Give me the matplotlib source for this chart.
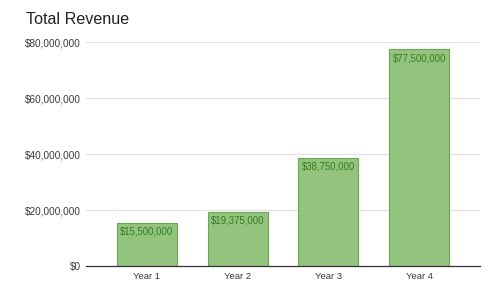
import matplotlib.pyplot as plt
from matplotlib.ticker import FuncFormatter

years = ['Year 1', 'Year 2', 'Year 3', 'Year 4']
revenue = [15500000, 19375000, 38750000, 77500000]

plt.rcParams['font.family'] = ['Liberation Sans', 'DejaVu Sans']

fig = plt.figure(figsize=(4.97, 2.86), dpi=100)
ax = fig.add_axes([86 / 497, 20 / 286, 394 / 497, 224 / 286])

x = range(len(years))
bars = ax.bar(x, revenue, width=0.66, color='#93c47d', edgecolor='#6aa84f',
              linewidth=0.8, zorder=3)

# value labels just inside the top of each bar
for b, v in zip(bars, revenue):
    ax.annotate('${:,.0f}'.format(v), (b.get_x() + b.get_width() / 2, v),
                xytext=(0, -3), textcoords='offset points', ha='center', va='top',
                fontsize=6.9, color='#357a22', zorder=4)

ax.set_ylim(0, 80000000)
ax.set_xlim(-0.67, 3.67)
ax.set_yticks([0, 20000000, 40000000, 60000000, 80000000])
ax.yaxis.set_major_formatter(FuncFormatter(lambda v, p: '${:,.0f}'.format(v)))
ax.set_xticks(list(x))
ax.set_xticklabels(years)
ax.tick_params(axis='both', length=0, labelcolor='#3a3a3a')
ax.tick_params(axis='y', pad=3.6, labelsize=7.2)
ax.tick_params(axis='x', pad=4, labelsize=6.8)

ax.grid(axis='y', color='#e0e0e0', linewidth=0.8, zorder=0)
for s in ['top', 'right', 'left']:
    ax.spines[s].set_visible(False)
ax.spines['bottom'].set_color('#333333')
ax.spines['bottom'].set_linewidth(0.9)
ax.spines['bottom'].set_zorder(5)

fig.text(26 / 497, 1 - 19 / 286, 'Total Revenue', fontsize=11.6, color='#222222',
         ha='left', va='center')

fig.savefig('out.png', dpi=100)
